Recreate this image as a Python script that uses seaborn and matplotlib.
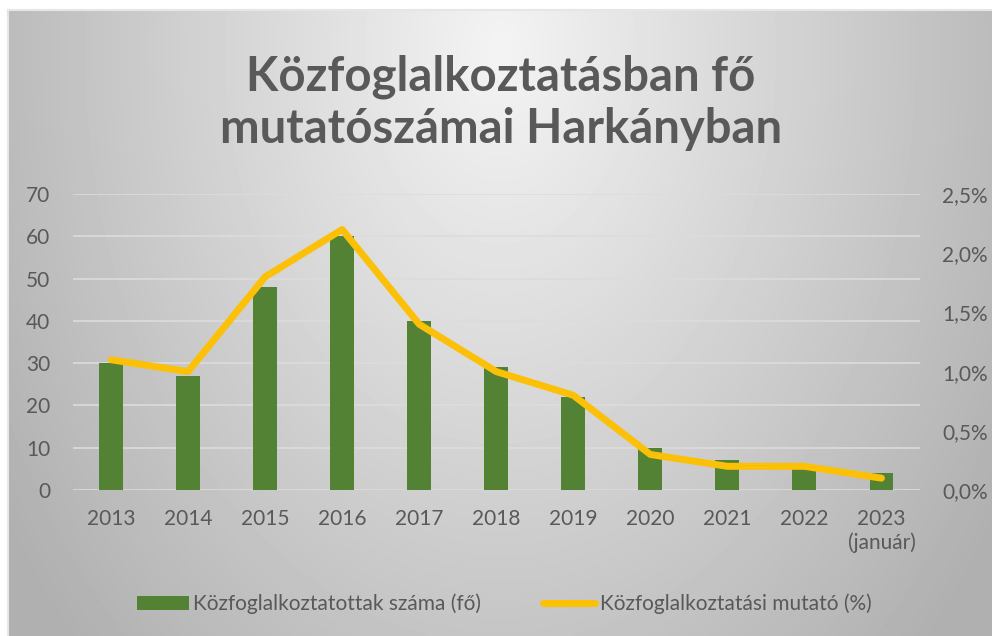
import numpy as np
import pandas as pd
import matplotlib
matplotlib.use("Agg")
import matplotlib.pyplot as plt
import seaborn as sns
from matplotlib.ticker import FuncFormatter
from matplotlib.patches import Patch
from matplotlib.lines import Line2D

# Data
years = ["2013", "2014", "2015", "2016", "2017", "2018", "2019", "2020", "2021", "2022", "2023\n(január)"]
workers = [30, 27, 48, 60, 40, 29, 22, 10, 7, 6, 4]          # Közfoglalkoztatottak száma (fő)
rate_pct = [1.1, 1.0, 1.8, 2.2, 1.4, 1.0, 0.8, 0.3, 0.2, 0.2, 0.1]  # Közfoglalkoztatási mutató (%)

bar_label = "Közfoglalkoztatottak száma (fő)"
line_label = "Közfoglalkoztatási mutató (%)"
title = "Közfoglalkoztatásban fő\nmutatószámai Harkányban"

df = pd.DataFrame({"pos": np.arange(len(years)), "workers": workers, "rate": rate_pct})

sns.set_theme(style="white")
plt.rcParams["font.family"] = ["Lato", "DejaVu Sans"]
text_col = "#595959"
green = "#548235"
gold = "#FFC000"

fig = plt.figure(figsize=(9.92, 6.36), dpi=100)

# radial grey background like the spreadsheet chart
bg = fig.add_axes([0, 0, 1, 1], zorder=-10)
W, H = 992, 636
xx, yy = np.meshgrid(np.arange(W), np.arange(H))
t = np.sqrt(((xx - 500) / 560.0) ** 2 + ((yy - 50) / 800.0) ** 2)
shade = np.clip(0.955 - 0.25 * t, 0.69, 1.0)
inside = (xx >= 8) & (yy >= 10)
img = np.where(inside, shade, 1.0)
bg.imshow(img, cmap="gray", vmin=0, vmax=1, extent=[0, W, H, 0], aspect="auto", interpolation="bilinear")
bg.plot([8, W], [10, 10], color="#e6e6e6", lw=1.5)
bg.plot([8, 8], [10, H], color="#e6e6e6", lw=1.5)
bg.set_xlim(0, W)
bg.set_ylim(H, 0)
bg.axis("off")

ax = fig.add_axes([72.5 / W, 1 - 490 / H, (920 - 72.5) / W, (490 - 194) / H])
ax.patch.set_alpha(0)
sns.barplot(data=df, x="pos", y="workers", color=green, width=0.31, saturation=1,
            linewidth=0, ax=ax, zorder=3)
ax.set_xlim(-0.5, len(years) - 0.5)
ax.set_ylim(0, 70)
ax.set_yticks(range(0, 71, 10))
ax.set_xticks(range(len(years)))
ax.set_xticklabels(years, linespacing=1.15)
ax.grid(axis="y", color="#dcdcdc", lw=1.2, zorder=0)
ax.set_axisbelow(True)
ax.set_xlabel("")
ax.set_ylabel("")
for s in ax.spines.values():
    s.set_visible(False)
ax.tick_params(axis="both", length=0, colors=text_col, labelsize=15)
ax.tick_params(axis="y", pad=16)
ax.tick_params(axis="x", pad=14)

ax2 = ax.twinx()
sns.lineplot(data=df, x="pos", y="rate", color=gold, lw=5, ax=ax2, zorder=4,
             solid_capstyle="round", solid_joinstyle="round")
ax2.set_ylim(0, 2.5)
ax2.set_yticks(np.arange(0, 2.51, 0.5))
ax2.yaxis.set_major_formatter(FuncFormatter(lambda v, p: f"{v:.1f}%".replace(".", ",")))
ax2.set_ylabel("")
ax2.set_xlabel("")
for s in ax2.spines.values():
    s.set_visible(False)
ax2.tick_params(axis="y", length=0, colors=text_col, labelsize=15, pad=16)
ax2.grid(False)

fig.text(0.505, 1 - 103 / H, title, ha="center", va="center", fontsize=34,
         fontweight="bold", color=text_col, linespacing=1.22)

handles = [Patch(facecolor=green, edgecolor="none"),
           Line2D([0], [0], color=gold, lw=5, solid_capstyle="round")]
leg = fig.legend(handles, [bar_label, line_label], loc="center", bbox_to_anchor=(0.508, 1 - 604 / H),
                 ncol=2, frameon=False, fontsize=15, handlelength=2.5, handleheight=0.65,
                 handletextpad=0.2, columnspacing=3.0)
for txt in leg.get_texts():
    txt.set_color(text_col)

fig.savefig("out.png", dpi=100)
